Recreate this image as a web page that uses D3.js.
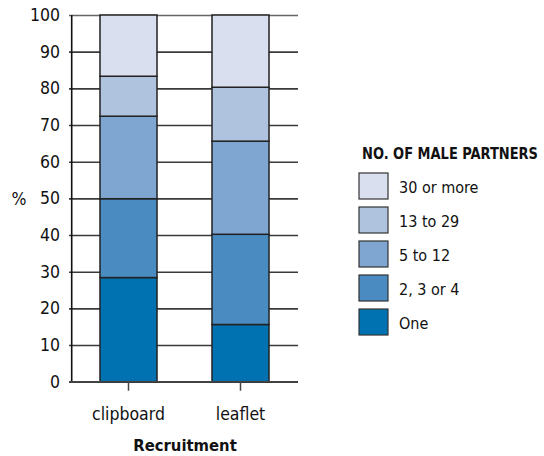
<!DOCTYPE html>
<html>
<head>
<meta charset="utf-8">
<script src="https://cdn.jsdelivr.net/npm/d3@7"></script>
<style>
  body { margin: 0; background: #fff; }
  text { font-family: "DejaVu Sans", sans-serif; font-stretch: condensed; fill: #111; }
</style>
</head>
<body>
<svg id="chart"></svg>
<script>
// recruitment method on the x axis
var categories = ["clipboard", "leaflet"]
// stacking order, bottom to top
var groups = ["One", "2, 3 or 4", "5 to 12", "13 to 29", "30 or more"]
var clipboardValues = [28.4, 21.5, 22.5, 10.9, 16.7]
var leafletValues = [15.6, 24.6, 25.4, 14.7, 19.7]
var groupColors = ["#0072b2", "#4a8cc2", "#7fa6d0", "#afc3df", "#d9dfef"]
var yTicks = [0, 10, 20, 30, 40, 50, 60, 70, 80, 90, 100]

var svg = d3.select("#chart")
            .attr("width", 544)
            .attr("height", 456)

//build rows for the stack
var rows = categories.map((c, i) => {
    var vals = i === 0 ? clipboardValues : leafletValues
    var row = {category: c}
    groups.forEach((g, j) => row[g] = vals[j])
    return row
})
var series = d3.stack().keys(groups)(rows)

var plot = {left: 69, axisX: 71.7, right: 298, top: 15, bottom: 381.7}

var x = d3.scaleBand()
          .domain(categories)
          .range([72.5, 296.5])
          .paddingInner(0.491)
          .paddingOuter(0.2455)
var y = d3.scaleLinear()
          .domain([0, 100])
          .range([plot.bottom, plot.top])
var color = d3.scaleOrdinal().domain(groups).range(groupColors)

//gridlines + tick labels
var yAxis = svg.append("g")
               .attr("transform", `translate(${plot.left},0)`)
               .call(d3.axisLeft(y).tickValues(yTicks)
                       .tickSize(-(plot.right - plot.left)).tickPadding(9))
yAxis.select(".domain").remove()
yAxis.selectAll(".tick line")
     .attr("stroke", d => d === 100 ? "#666" : "#3a3a3a")
     .attr("stroke-width", 1.6)
yAxis.selectAll(".tick text")
     .attr("font-size", 17.5)
     .attr("font-family", null)
     .attr("fill", "#111")

//vertical axis line
svg.append("line")
   .attr("x1", plot.axisX)
   .attr("x2", plot.axisX)
   .attr("y1", y(100))
   .attr("y2", y(0))
   .attr("stroke", "#111")
   .attr("stroke-width", 1.6)

//bars
svg.append("g")
   .selectAll("g")
   .data(series)
   .enter()
   .append("g")
   .attr("fill", d => color(d.key))
   .selectAll("rect")
   .data(d => d)
   .enter()
   .append("rect")
   .attr("x", d => x(d.data.category))
   .attr("width", x.bandwidth())
   .attr("y", d => y(d[1]))
   .attr("height", d => y(d[0]) - y(d[1]))
   .attr("stroke", "#222")
   .attr("stroke-width", 1.5)

//x axis
var xAxis = svg.append("g")
               .attr("transform", `translate(0,${plot.bottom})`)
               .call(d3.axisBottom(x).tickSize(9).tickPadding(17))
xAxis.select(".domain")
     .attr("d", `M${plot.left},0H${plot.right}`)
     .attr("stroke", "#444")
     .attr("stroke-width", 1.5)
xAxis.selectAll(".tick line").attr("stroke", "#444").attr("stroke-width", 1.5)
xAxis.selectAll(".tick text")
     .attr("font-size", 17.5)
     .attr("font-family", null)
     .attr("fill", "#111")

svg.append("text")
   .attr("x", 185)
   .attr("y", 451)
   .attr("text-anchor", "middle")
   .attr("font-size", 16.5)
   .attr("font-weight", "bold")
   .text("Recruitment")

svg.append("text")
   .attr("x", 19)
   .attr("y", 205)
   .attr("text-anchor", "middle")
   .attr("font-size", 17.5)
   .text("%")

//legend, top entry first
var legend = svg.append("g").attr("transform", "translate(359,0)")
legend.append("text")
      .attr("x", 3)
      .attr("y", 159)
      .attr("font-size", 15)
      .attr("font-weight", "bold")
      .attr("textLength", 176)
      .attr("lengthAdjust", "spacingAndGlyphs")
      .text("NO. OF MALE PARTNERS")
var items = legend.selectAll(".item")
                  .data(groups.slice().reverse())
                  .enter()
                  .append("g")
                  .attr("class", "item")
                  .attr("transform", (d, i) => `translate(0,${173 + i * 34})`)
items.append("rect")
     .attr("width", 29)
     .attr("height", 26)
     .attr("fill", d => color(d))
     .attr("stroke", "#333")
     .attr("stroke-width", 1.2)
items.append("text")
     .attr("x", 40)
     .attr("y", 20)
     .attr("font-size", 16)
     .text(d => d)
</script>
</body>
</html>
